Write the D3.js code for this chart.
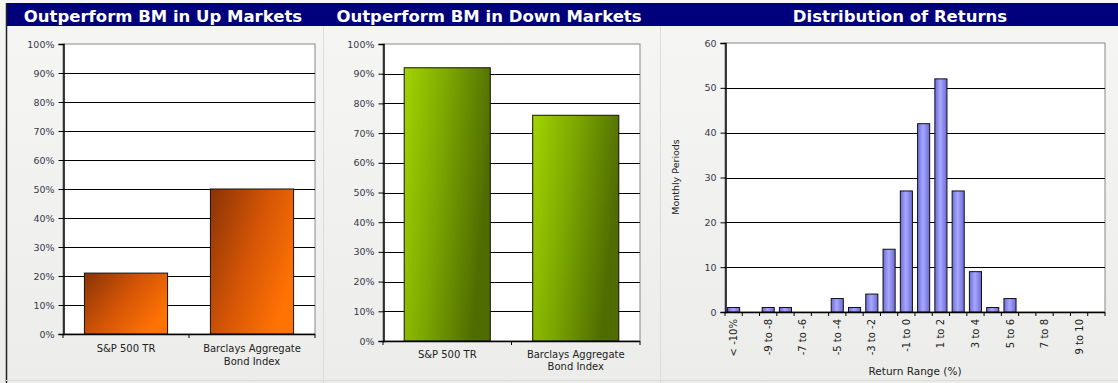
<!DOCTYPE html>
<html><head><meta charset="utf-8">
<script src="https://cdn.jsdelivr.net/npm/d3@7"></script>
<style>
body{margin:0;background:#fff;}
svg{display:block;}
text{font-family:"DejaVu Sans",Verdana,sans-serif;}
</style></head>
<body>
<svg id="c" width="1118" height="383"></svg>
<script>
const upCategories = ["S&P 500 TR", "Barclays Aggregate\nBond Index"];
const upValues = [0.21, 0.50];
const downCategories = ["S&P 500 TR", "Barclays Aggregate\nBond Index"];
const downValues = [0.92, 0.76];
const pctTicks = [0,0.1,0.2,0.3,0.4,0.5,0.6,0.7,0.8,0.9,1.0];
const distCategories = ["< -10%","-10 to -9","-9 to -8","-8 to -7","-7 to -6","-6 to -5","-5 to -4","-4 to -3","-3 to -2","-2 to -1","-1 to 0","0 to 1","1 to 2","2 to 3","3 to 4","4 to 5","5 to 6","6 to 7","7 to 8","8 to 9","9 to 10","> 10%"];
const distValues = [1,0,1,1,0,0,3,1,4,14,27,42,52,27,9,1,3,0,0,0,0,0];
const distTicks = [0,10,20,30,40,50,60];
const titles = ["Outperform BM in Up Markets","Outperform BM in Down Markets","Distribution of Returns"];

const svg = d3.select("#c");
const defs = svg.append("defs");
function lg(id, stops, x2, y2){
  const g = defs.append("linearGradient").attr("id",id).attr("x1",0).attr("y1",0).attr("x2",x2).attr("y2",y2);
  stops.forEach(s=>g.append("stop").attr("offset",s[0]).attr("stop-color",s[1]));
}
lg("orange",[[0,"#8a3306"],[0.55,"#d65606"],[1,"#ff7204"]],1,0.6);
lg("green",[[0,"#a2d400"],[0.5,"#7aa400"],[1,"#4f6c00"]],1,0.3);
lg("purple",[[0,"#6c6cd8"],[0.45,"#a8a8ff"],[1,"#6a6ad6"]],1,0);
lg("bg",[[0,"#f6f6f4"],[1,"#ecedea"]],0,1);

// background
svg.append("rect").attr("x",0).attr("y",0).attr("width",1118).attr("height",383).attr("fill","url(#bg)");
// title band
svg.append("rect").attr("x",6).attr("y",3).attr("width",1112).attr("height",23).attr("fill","#00007c");
svg.append("line").attr("x1",6.5).attr("x2",6.5).attr("y1",3).attr("y2",383).attr("stroke","#222").attr("stroke-width",1.5);
svg.append("line").attr("x1",323.5).attr("x2",323.5).attr("y1",26).attr("y2",383).attr("stroke","#dcdcd8");
svg.append("line").attr("x1",660.5).attr("x2",660.5).attr("y1",26).attr("y2",383).attr("stroke","#dcdcd8");
svg.append("line").attr("x1",6).attr("x2",1118).attr("y1",380.5).attr("y2",380.5).attr("stroke","#dcdcd8");

const titleX = [163, 489, 900];
titles.forEach((t,i)=>{
  svg.append("text").attr("x",titleX[i]).attr("y",21.5).attr("text-anchor","middle")
    .attr("fill","#fff").attr("font-weight","bold").attr("font-size","16.5px").text(t);
});

function barPanel(cfg){
  const g = svg.append("g");
  const x = d3.scaleBand().domain(cfg.cats).range([cfg.x0,cfg.x1]).paddingInner(cfg.pad).paddingOuter(cfg.pad/2);
  const y = d3.scaleLinear().domain([0,cfg.max]).range([cfg.y0,cfg.y1]);
  g.append("rect").attr("x",cfg.x0).attr("y",cfg.y1).attr("width",cfg.x1-cfg.x0).attr("height",cfg.y0-cfg.y1)
    .attr("fill","#fff").attr("stroke","#888").attr("stroke-width",1);
  g.selectAll(".gl").data(cfg.ticks.filter(t=>t>0 && t<cfg.max)).join("line")
    .attr("x1",cfg.x0).attr("x2",cfg.x1).attr("y1",d=>Math.round(y(d))+0.5).attr("y2",d=>Math.round(y(d))+0.5)
    .attr("stroke","#000").attr("stroke-width",1);
  g.selectAll(".bar").data(cfg.vals).join("rect")
    .attr("x",(d,i)=>x(cfg.cats[i])).attr("width",x.bandwidth())
    .attr("y",d=>y(d)).attr("height",d=>cfg.y0-y(d))
    .attr("fill",cfg.fill).attr("stroke","#111").attr("stroke-width",1);
  const ya = d3.axisLeft(y).tickValues(cfg.ticks).tickFormat(cfg.fmt).tickSize(5).tickPadding(4);
  const yg = g.append("g").attr("transform",`translate(${cfg.x0+0.5},0)`).call(ya);
  yg.select(".domain").attr("stroke","#000").attr("stroke-width",1.5);
  yg.selectAll(".tick line").attr("stroke","#000");
  yg.selectAll(".tick text").attr("fill","#34394a").attr("font-size","9.5px").attr("font-family","'DejaVu Sans',sans-serif");
  g.append("line").attr("x1",cfg.x0).attr("x2",cfg.x1).attr("y1",cfg.y0+0.5).attr("y2",cfg.y0+0.5).attr("stroke","#000").attr("stroke-width",1.5);
  const step = x.step();
  const bounds = d3.range(cfg.cats.length+1).map(i=>cfg.x0 + i*step);
  g.selectAll(".xt").data(bounds).join("line")
    .attr("x1",d=>d).attr("x2",d=>d).attr("y1",cfg.y0).attr("y2",cfg.y0+4).attr("stroke","#000");
  return {g,x,y,step};
}

function catLabels(p, cats, cy, lh){
  cats.forEach(c=>{
    const lines = c.split("\n");
    const t = p.g.append("text").attr("text-anchor","middle").attr("fill","#222").attr("font-size","10px");
    lines.forEach((l,j)=>t.append("tspan").attr("x",p.x(c)+p.x.bandwidth()/2).attr("y",cy+j*lh).text(l));
  });
}

const pct = d3.format(".0%");
const p1 = barPanel({cats:upCategories, vals:upValues, x0:63, x1:315, y0:334, y1:44, max:1, ticks:pctTicks, fmt:pct, pad:0.34, fill:"url(#orange)"});
catLabels(p1, upCategories, 352, 13);
const p2 = barPanel({cats:downCategories, vals:downValues, x0:383, x1:640, y0:341, y1:44, max:1, ticks:pctTicks, fmt:pct, pad:0.33, fill:"url(#green)"});
catLabels(p2, downCategories, 358, 12);
const p3 = barPanel({cats:distCategories, vals:distValues, x0:725, x1:1105, y0:312, y1:43, max:60, ticks:distTicks, fmt:d3.format("d"), pad:0.3, fill:"url(#purple)"});
distCategories.forEach((c,i)=>{
  if(i%2!==0) return;
  const cx = p3.x(c)+p3.x.bandwidth()/2;
  p3.g.append("text").attr("transform",`translate(${cx+3.5},319) rotate(-90)`)
    .attr("text-anchor","end").attr("fill","#222").attr("font-size","10px").text(c);
});
svg.append("text").attr("transform","translate(679,177) rotate(-90)").attr("text-anchor","middle")
  .attr("fill","#222").attr("font-size","9.5px").text("Monthly Periods");
svg.append("text").attr("x",915).attr("y",375).attr("text-anchor","middle")
  .attr("fill","#222").attr("font-size","10.5px").text("Return Range (%)");
</script>
</body></html>
